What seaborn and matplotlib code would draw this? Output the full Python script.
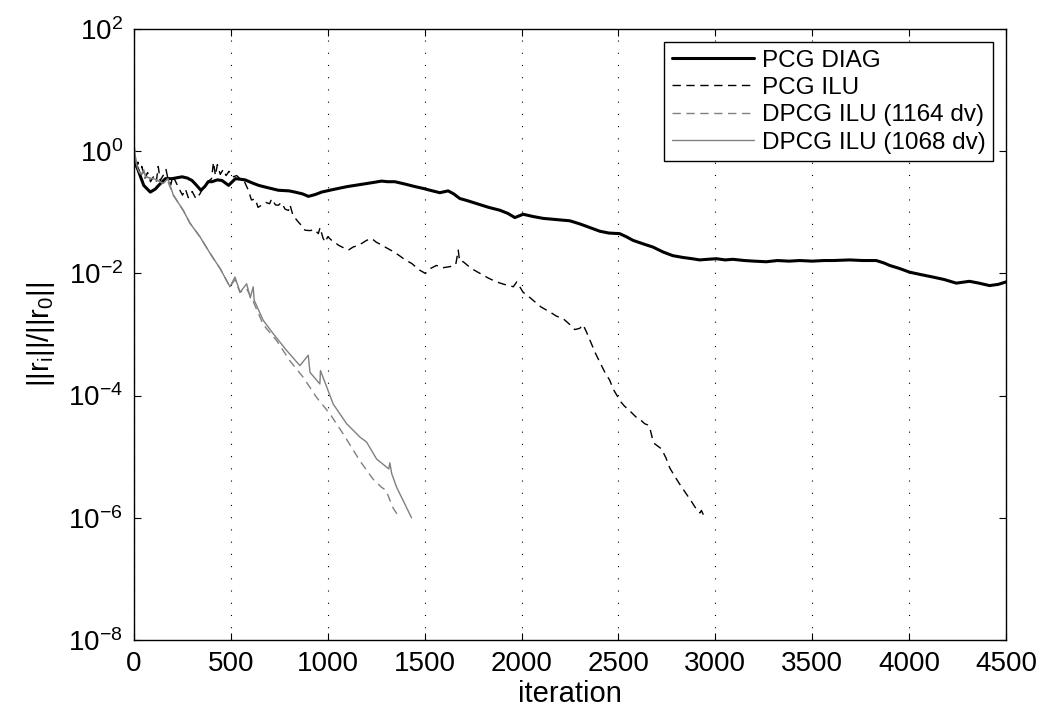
import numpy as np
import pandas as pd
import matplotlib
matplotlib.use("Agg")
import matplotlib.pyplot as plt
import seaborn as sns
from matplotlib.ticker import NullLocator, LogFormatterSciNotation

# residual histories as (iteration, log10 ||r_i||/||r_0||)
diag_it = [0, 20, 50, 84, 110, 127, 162, 196, 248, 275, 299, 320, 345, 365, 383, 402,
           430, 454, 488, 523, 550, 573, 610, 643, 680, 745, 800, 831, 870, 900, 935,
           968, 1010, 1054, 1100, 1140, 1200, 1240, 1277, 1310, 1346, 1400, 1450, 1492,
           1540, 1578, 1621, 1650, 1681, 1720, 1767, 1830, 1888, 1930, 1965, 2008, 2060,
           2111, 2180, 2249, 2300, 2335, 2403, 2450, 2506, 2540, 2575, 2630, 2678, 2730,
           2780, 2833, 2880, 2919, 2960, 3005, 3050, 3091, 3150, 3200, 3263, 3320, 3380,
           3435, 3500, 3560, 3607, 3693, 3760, 3830, 3870, 3899, 3950, 4002, 4060, 4122,
           4180, 4243, 4311, 4360, 4415, 4460, 4500]
diag_exp = [-0.15, -0.30, -0.56, -0.67, -0.62, -0.56, -0.45, -0.45, -0.42, -0.44, -0.48,
            -0.55, -0.64, -0.58, -0.50, -0.50, -0.47, -0.48, -0.56, -0.45, -0.46, -0.47,
            -0.52, -0.56, -0.59, -0.64, -0.65, -0.67, -0.70, -0.74, -0.71, -0.67, -0.64,
            -0.61, -0.58, -0.56, -0.53, -0.51, -0.49, -0.50, -0.50, -0.54, -0.58, -0.61,
            -0.65, -0.68, -0.65, -0.70, -0.775, -0.81, -0.857, -0.92, -0.967, -1.02,
            -1.087, -1.033, -1.07, -1.10, -1.12, -1.14, -1.19, -1.23, -1.31, -1.34, -1.35,
            -1.40, -1.46, -1.52, -1.57, -1.65, -1.71, -1.74, -1.76, -1.78, -1.77, -1.76,
            -1.78, -1.77, -1.79, -1.80, -1.81, -1.79, -1.80, -1.79, -1.80, -1.79, -1.79,
            -1.78, -1.79, -1.79, -1.83, -1.87, -1.92, -1.98, -2.02, -2.06, -2.10, -2.16,
            -2.13, -2.16, -2.20, -2.18, -2.14]

ilu_it = [0, 10, 20, 30, 40, 55, 70, 85, 100, 115, 125, 135, 150, 165, 175, 190, 200,
          230, 250, 265, 280, 300, 320, 340, 360, 380, 400, 410, 420, 430, 445, 460, 475,
          490, 510, 530, 550, 570, 590, 606, 625, 640, 660, 680, 700, 710, 730, 745, 760,
          780, 797, 805, 820, 848, 865, 883, 910, 930, 951, 960, 975, 986, 1000, 1020,
          1040, 1055, 1080, 1106, 1130, 1158, 1180, 1200, 1227, 1250, 1275, 1296, 1330,
          1365, 1400, 1434, 1470, 1503, 1530, 1561, 1590, 1630, 1660, 1673, 1680, 1699,
          1740, 1785, 1830, 1871, 1910, 1939, 1957, 1975, 2008, 2030, 2059, 2100, 2145,
          2180, 2214, 2250, 2274, 2300, 2317, 2335, 2360, 2380, 2403, 2430, 2455, 2472,
          2498, 2506, 2530, 2558, 2590, 2618, 2635, 2650, 2661, 2675, 2687, 2721, 2745,
          2764, 2790, 2816, 2850, 2880, 2902, 2920, 2928, 2945]
ilu_exp = [-0.10, -0.30, -0.18, -0.40, -0.25, -0.45, -0.35, -0.50, -0.42, -0.50, -0.25,
           -0.48, -0.40, -0.30, -0.45, -0.55, -0.40, -0.60, -0.72, -0.62, -0.76, -0.66,
           -0.78, -0.70, -0.58, -0.50, -0.45, -0.18, -0.40, -0.22, -0.38, -0.30, -0.40,
           -0.33, -0.42, -0.40, -0.46, -0.50, -0.64, -0.80, -0.78, -0.92, -0.88, -0.84,
           -0.86, -0.78, -0.88, -0.885, -0.84, -0.95, -0.97, -0.88, -1.05, -1.16, -1.22,
           -1.295, -1.30, -1.28, -1.35, -1.25, -1.42, -1.49, -1.40, -1.46, -1.50, -1.54,
           -1.58, -1.62, -1.57, -1.54, -1.50, -1.46, -1.43, -1.49, -1.53, -1.57, -1.63,
           -1.70, -1.78, -1.84, -1.94, -2.00, -1.92, -1.87, -1.91, -1.89, -1.86, -1.62,
           -1.80, -1.81, -1.92, -2.00, -2.08, -2.14, -2.18, -2.20, -2.22, -2.14, -2.31,
           -2.36, -2.44, -2.55, -2.63, -2.70, -2.74, -2.84, -2.92, -2.90, -2.84, -2.96,
           -3.15, -3.30, -3.45, -3.62, -3.75, -3.89, -4.03, -4.08, -4.17, -4.25, -4.35,
           -4.41, -4.46, -4.48, -4.52, -4.70, -4.79, -4.87, -5.02, -5.18, -5.32, -5.45,
           -5.61, -5.75, -5.86, -5.92, -5.88, -6.00]

dv1164_it = [0, 5, 12, 20, 31, 40, 50, 60, 83, 110, 151, 175, 203, 254, 289, 340, 392,
             444, 495, 521, 547, 581, 615, 667, 736, 804, 873, 942, 1011, 1080, 1166,
             1234, 1277, 1300, 1337, 1368]
dv1164_exp = [0.12, -0.05, -0.20, -0.30, -0.36, -0.38, -0.30, -0.42, -0.44, -0.46, -0.53,
              -0.50, -0.72, -0.97, -1.18, -1.40, -1.67, -1.92, -2.22, -2.10, -2.31, -2.25,
              -2.46, -2.84, -3.10, -3.43, -3.70, -4.03, -4.30, -4.63, -5.07, -5.37, -5.50,
              -5.55, -5.84, -5.99]

dv1068_it = [0, 5, 12, 20, 31, 40, 50, 60, 83, 110, 151, 175, 203, 254, 289, 340, 392,
             444, 495, 521, 547, 581, 600, 615, 620, 667, 719, 787, 856, 899, 908, 959,
             962, 1028, 1097, 1166, 1200, 1252, 1315, 1320, 1330, 1355, 1389, 1432]
dv1068_exp = [0.12, -0.05, -0.20, -0.30, -0.36, -0.38, -0.30, -0.42, -0.44, -0.46, -0.53,
              -0.45, -0.72, -0.97, -1.18, -1.40, -1.67, -1.92, -2.22, -2.06, -2.31, -2.17,
              -2.40, -2.22, -2.44, -2.77, -2.99, -3.26, -3.51, -3.34, -3.62, -3.81, -3.59,
              -4.14, -4.46, -4.68, -4.76, -5.04, -5.20, -5.10, -5.28, -5.50, -5.72, -6.00]

labels = ["PCG DIAG", "PCG ILU", "DPCG ILU (1164 dv)", "DPCG ILU (1068 dv)"]
x_ticks = [0, 500, 1000, 1500, 2000, 2500, 3000, 3500, 4000, 4500]
y_ticks = [1e-8, 1e-6, 1e-4, 1e-2, 1e0, 1e2]

sns.set_style("ticks")
plt.rcParams["font.family"] = ["Liberation Sans", "DejaVu Sans"]
plt.rcParams["mathtext.default"] = "regular"
for key in ["text.color", "axes.labelcolor", "xtick.color", "ytick.color"]:
    plt.rcParams[key] = "black"

fig = plt.figure(figsize=(10.57, 7.13), dpi=100)
ax = fig.add_axes([0.1268, 0.1024, 0.825, 0.857])

gray = "#808080"
series = [
    (diag_it, diag_exp, "black", 2.2, "-"),
    (ilu_it, ilu_exp, "black", 1.0, (0, (6, 4))),
    (dv1164_it, dv1164_exp, gray, 1.0, (0, (6, 4))),
    (dv1068_it, dv1068_exp, gray, 1.0, "-"),
]
for (it, ex, col, lw, ls), lab in zip(series, labels):
    df = pd.DataFrame({"iteration": it, "res": np.power(10.0, ex)})
    sns.lineplot(data=df, x="iteration", y="res", ax=ax, color=col, linewidth=lw,
                 linestyle=ls, estimator=None, label=lab)

ax.set_yscale("log")
ax.set_xlim(0, 4500)
ax.set_ylim(1e-8, 1e2)
ax.set_xticks(x_ticks)
ax.set_yticks(y_ticks)
ax.yaxis.set_major_formatter(LogFormatterSciNotation())
ax.yaxis.set_minor_locator(NullLocator())
ax.tick_params(direction="in", top=True, right=True, length=5, width=0.8,
               labelsize=20, pad=8)
for s in ax.spines.values():
    s.set_linewidth(1.0)
    s.set_color("black")
ax.grid(axis="x", color="black", linestyle=(0, (1, 10)), linewidth=0.8)
ax.grid(axis="y", visible=False)

ax.set_xlabel("iteration", fontsize=21, labelpad=2)
ax.set_ylabel(r"||r$_\mathregular{i}$||/||r$_\mathregular{0}$||", fontsize=21, labelpad=8)

leg = ax.legend(loc="upper right", fontsize=17.5, frameon=True, fancybox=False,
                edgecolor="black", framealpha=1, handlelength=3.4, handletextpad=0.3,
                labelspacing=0.22, borderaxespad=0.55, borderpad=0.3)
leg.get_frame().set_linewidth(1.0)

fig.savefig("out.png", dpi=100)
